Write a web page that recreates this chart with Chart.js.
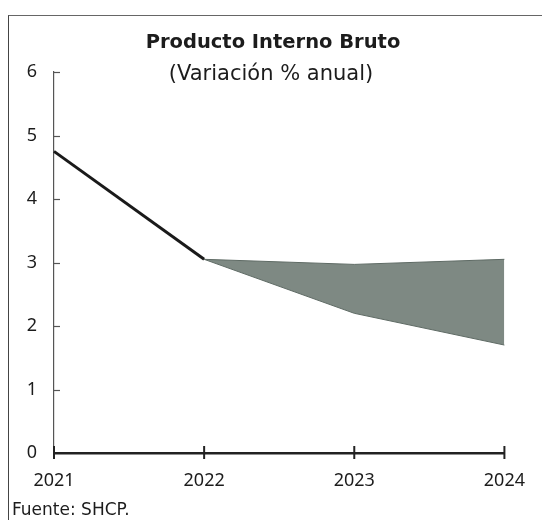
<!DOCTYPE html>
<html>
<head>
<meta charset="utf-8">
<script src="https://cdn.jsdelivr.net/npm/chart.js@4"></script>
<style>
  html, body { margin:0; padding:0; background:#fff; }
  #wrap { position:relative; width:542px; height:520px; overflow:hidden; font-family:"DejaVu Sans", sans-serif; color:#1c1c1c; }
  #frame { position:absolute; left:8px; top:15px; width:560px; height:560px; border-left:1.5px solid #444; border-top:1.5px solid #666; }
  #c { position:absolute; left:0; top:0; }
  .t { position:absolute; left:0; width:542px; text-align:center; white-space:nowrap; }
  #title { top:28px; font-size:19.5px; font-weight:700; line-height:28px; left:2px; }
  #sub { top:59px; font-size:21px; line-height:28px; }
  #src { position:absolute; left:12px; top:498px; font-size:17px; line-height:22px; }
</style>
</head>
<body>
<div id="wrap">
  <div id="frame"></div>
  <canvas id="c" width="542" height="520"></canvas>
  <div class="t" id="title">Producto Interno Bruto</div>
  <div class="t" id="sub">(Variación % anual)</div>
  <div id="src">Fuente: SHCP.</div>
</div>
<script>
const categories = ["2021", "2022", "2023", "2024"];
const observed = [4.75, 3.05, null, null];
const rangeUpper = [null, 3.05, 2.97, 3.05];
const rangeLower = [null, 3.05, 2.2, 1.7];
const yTicks = [0, 1, 2, 3, 4, 5, 6];

const tickPlugin = {
  id: 'customTicks',
  afterDraw(chart) {
    const ctx = chart.ctx;
    const x = chart.scales.x, y = chart.scales.y;
    ctx.save();
    ctx.strokeStyle = '#555';
    ctx.lineWidth = 1.2;
    yTicks.forEach(v => {
      if (v === 0) return;
      const py = Math.round(y.getPixelForValue(v)) + 0.5;
      ctx.beginPath();
      ctx.moveTo(x.left, py);
      ctx.lineTo(x.left + 6, py);
      ctx.stroke();
    });
    ctx.strokeStyle = '#222';
    ctx.lineWidth = 2;
    const py0 = y.getPixelForValue(0);
    categories.forEach((c, i) => {
      const px = x.getPixelForValue(i);
      ctx.beginPath();
      ctx.moveTo(px, py0 - 7);
      ctx.lineTo(px, py0 + 6);
      ctx.stroke();
    });
    ctx.restore();
  }
};

new Chart(document.getElementById('c'), {
  type: 'line',
  data: {
    labels: categories,
    datasets: [
      { data: rangeUpper, borderColor: '#5f6b65', borderWidth: 1, pointRadius: 0, fill: false, tension: 0 },
      { data: rangeLower, borderColor: '#5f6b65', borderWidth: 1, pointRadius: 0, fill: '-1', backgroundColor: 'rgb(126,137,131)', tension: 0 },
      { data: observed, borderColor: '#1a1a1a', borderWidth: 3, pointRadius: 0, fill: false, tension: 0 }
    ]
  },
  options: {
    responsive: false,
    animation: false,
    events: [],
    layout: { padding: { top: 72, right: 34, bottom: 0, left: 0 } },
    plugins: { legend: { display: false }, tooltip: { enabled: false }, title: { display: false } },
    scales: {
      x: {
        offset: false,
        grid: { display: false, drawTicks: false },
        border: { display: true, color: '#222', width: 2.5 },
        ticks: { color: '#1c1c1c', font: { family: 'Noto Sans', size: 18 }, padding: 17, maxRotation: 0, autoSkip: false },
        afterFit(s) { s.height = 67; }
      },
      y: {
        min: 0, max: 6,
        afterBuildTicks(s) { s.ticks = yTicks.map(v => ({ value: v })); },
        grid: { display: false, drawTicks: false },
        border: { display: true, color: '#555', width: 1.2 },
        ticks: { color: '#1c1c1c', font: { family: 'Noto Sans', size: 18 }, padding: 17 },
        afterFit(s) { s.width = 54; }
      }
    }
  },
  plugins: [tickPlugin]
});
</script>
</body>
</html>
